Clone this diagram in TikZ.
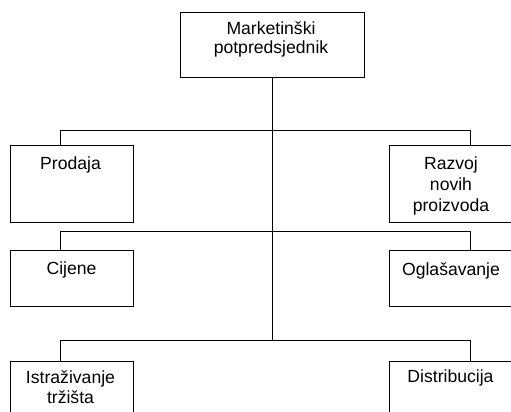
\documentclass[tikz,border=0pt]{standalone}
\usepackage{fontspec}
\setmainfont{Liberation Sans}

\tikzset{
  unit/.style={draw, line width=0.8pt, minimum width=123pt, inner sep=0pt},
  wire/.style={line width=0.8pt},
  lab/.style={anchor=north, align=center, inner sep=0pt, font=\fontsize{17.6}{20.8}\selectfont}
}

\begin{document}
\begin{tikzpicture}[x=1pt,y=1pt,yscale=-1]
\useasboundingbox (0,0) rectangle (511,412);
\clip (0,0) rectangle (511,412);

%Shape: Boxes
\node[unit, minimum width=184pt, minimum height=65pt] (vp) at (272,44.5) {};
\node[unit, minimum height=77pt] (prodaja) at (71.5,183.5) {};
\node[unit, minimum height=77pt] (razvoj) at (451,183.5) {};
\node[unit, minimum height=56pt] (cijene) at (71.5,278) {};
\node[unit, minimum height=56pt] (oglas) at (451,278) {};
\node[unit, minimum height=70pt] (istraz) at (71.5,396) {};
\node[unit, minimum height=70pt] (distr) at (451,396) {};

%Straight Lines
\coordinate (l) at (60,0);
\coordinate (r) at (470,0);
\coordinate (trunk) at (272,340);
\draw[wire] (vp.south) -- (trunk);
\foreach \a/\b/\y in {prodaja/razvoj/130, cijene/oglas/231, istraz/distr/340}
  \draw[wire] (l |- \a.north) -- (60,\y) -- (470,\y) -- (r |- \b.north);

% Text Node
\node[lab, font=\fontsize{17.6}{18.8}\selectfont] (vp-t) at (271,21.5) {Marketinški\\potpredsjednik};
% Text Node
\node[lab] (prodaja-t) at (70.5,157) {Prodaja};
% Text Node
\node[lab] (razvoj-t) at (451,157) {Razvoj\\novih\\proizvoda};
% Text Node
\node[lab] (cijene-t) at (71.5,262) {Cijene};
% Text Node
\node[lab] (oglas-t) at (451,262) {Oglašavanje};
% Text Node
\node[lab] (istraz-t) at (70.5,370) {Istraživanje\\tržišta};
% Text Node
\node[lab] (distr-t) at (450.5,370) {Distribucija};

\end{tikzpicture}
\end{document}
